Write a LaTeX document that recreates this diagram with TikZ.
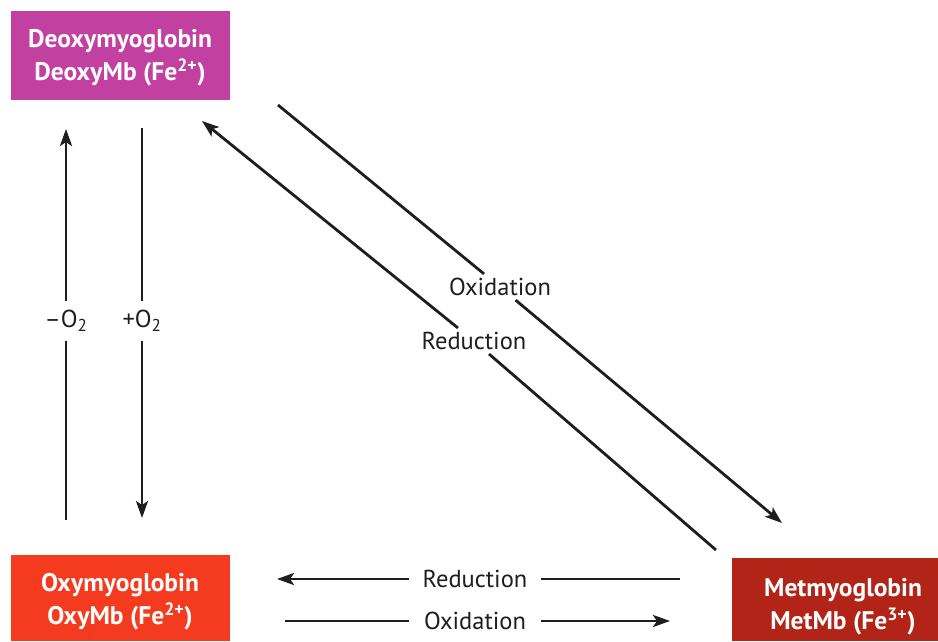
\documentclass[tikz,border=0pt]{standalone}
\usepackage{fontspec}
\setmainfont{PT Sans}
\usetikzlibrary{arrows.meta}
\definecolor{deoxycol}{HTML}{C2409F}
\definecolor{oxycol}{HTML}{F53B1F}
\definecolor{metcol}{HTML}{B22418}
\definecolor{inkcol}{HTML}{1E1E1E}
\tikzset{
  boxtext/.style={text=white, font=\fontsize{25.5}{33}\selectfont\bfseries, align=center, inner sep=0pt},
  lab/.style={text=inkcol, font=\fontsize{24.5}{28}\selectfont, inner sep=0pt},
  conn/.style={draw=inkcol, line width=2.8pt},
  arr/.style={conn, -{Stealth[length=17pt,width=12pt,inset=4pt]}},
}
\begin{document}
\begin{tikzpicture}[x=1pt,y=-1pt]
\useasboundingbox[fill=white] (0,0) rectangle (938,641);
% boxes
\fill[deoxycol] (11,11) rectangle (230,100);
\fill[oxycol] (11,555) rectangle (230,641);
\fill[metcol] (732,558) rectangle (938,641);
\node[boxtext] (deoxy) at (120,58) {Deoxymyoglobin\\DeoxyMb (Fe\textsuperscript{2+})};
\node[boxtext] (oxy) at (120,602) {Oxymyoglobin\\OxyMb (Fe\textsuperscript{2+})};
\node[boxtext] (met) at (843,607) {Metmyoglobin\\MetMb (Fe\textsuperscript{3+})};
% vertical
\coordinate (v1a) at (66,520);
\coordinate (v1b) at (66,129);
\coordinate (v2a) at (142,128);
\coordinate (v2b) at (142,518);
\node[lab, inner ysep=9pt, inner xsep=2pt] (minus) at (66,321) {–O\textsubscript{2}};
\node[lab, inner ysep=9pt, inner xsep=2pt] (plus) at (142,321) {+O\textsubscript{2}};
\draw[conn] (v1a) -- (minus);
\draw[arr] (minus) -- (v1b);
\draw[conn] (v2a) -- (plus);
\draw[arr] (plus) -- (v2b);
% diagonal
\coordinate (d1a) at (278,105);
\coordinate (d1b) at (782,523);
\coordinate (d2a) at (716,550);
\coordinate (d2b) at (202,121);
\node[lab, inner sep=4pt] (doxi) at (500,287) {Oxidation};
\node[lab, inner sep=4pt] (dred) at (474,341) {Reduction};
\draw[conn] (d1a) -- (doxi);
\draw[arr] (doxi) -- (d1b);
\draw[conn] (d2a) -- (dred);
\draw[arr] (dred) -- (d2b);
% horizontal
\coordinate (h1a) at (680,579);
\coordinate (h1b) at (277,579);
\coordinate (h2a) at (285,621);
\coordinate (h2b) at (670,621);
\node[lab, inner xsep=13pt] (hred) at (475,579) {Reduction};
\node[lab, inner xsep=15pt] (hoxi) at (475,621) {Oxidation};
\draw[conn] (h1a) -- (hred);
\draw[arr] (hred) -- (h1b);
\draw[conn] (h2a) -- (hoxi);
\draw[arr] (hoxi) -- (h2b);
\end{tikzpicture}
\end{document}
